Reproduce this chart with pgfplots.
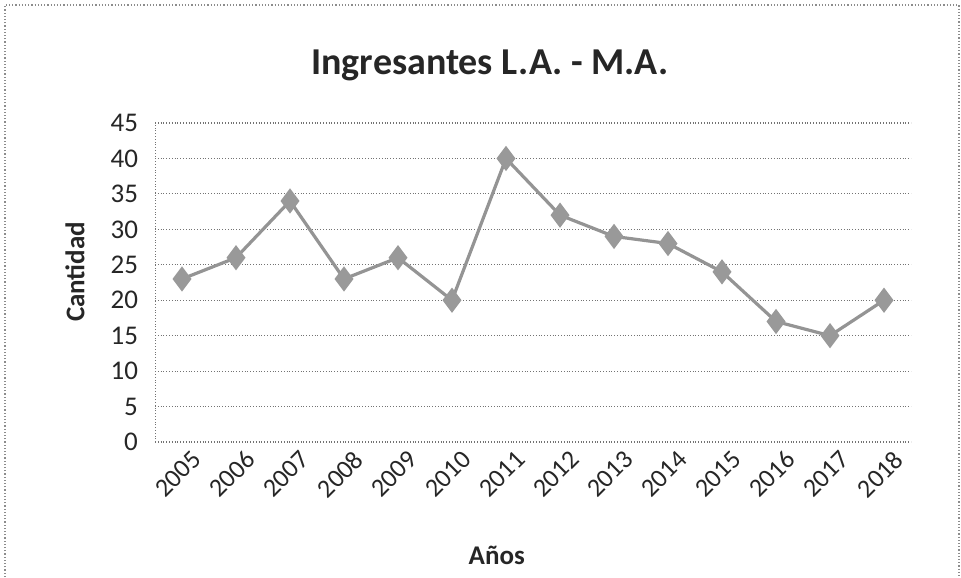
\documentclass[border=0pt]{standalone}
\usepackage{pgfplots}
\pgfplotsset{compat=1.18}
\usepackage{fontspec}
\setmainfont{Carlito}
\begin{document}
\begin{tikzpicture}
\begin{axis}[
  at={(0,0)}, anchor=south west,
  width=378pt, height=159.5pt, scale only axis,
  xmin=-0.5, xmax=13.5, ymin=0, ymax=45,
  xtick={0,...,13},
  xticklabels={2005,2006,2007,2008,2009,2010,2011,2012,2013,2014,2015,2016,2017,2018},
  ytick={0,5,...,45},
  /pgf/number format/assume math mode=true,
  tick label style={font=\fontsize{13.5}{15}\selectfont, text=black!85},
  xticklabel style={rotate=45, anchor=north east, yshift=-2pt, xshift=4pt, font=\fontsize{13}{15}\selectfont},
  yticklabel style={xshift=-5pt},
  major tick length=0pt,
  axis x line*=bottom, axis y line*=left,
  x axis line style={draw=none},
  y axis line style={draw=black!55, densely dotted},
  ymajorgrids, grid style={black!55, densely dotted, line width=0.6pt},
  clip=false,
]
\addplot[color=black!42, line width=1.6pt, mark=diamond*, mark size=5pt,
  mark options={fill=black!40, draw=black!40}]
  coordinates {(0,23) (1,26) (2,34) (3,23) (4,26) (5,20) (6,40) (7,32) (8,29) (9,28) (10,24) (11,17) (12,15) (13,20)};
\node[font=\fontsize{19}{22}\selectfont\bfseries, text=black!85] at ([yshift=29pt]rel axis cs:0.443,1) {Ingresantes L.A. - M.A.};
\node[font=\fontsize{13.5}{15}\selectfont\bfseries, text=black!85] at ([yshift=-56.5pt]rel axis cs:0.452,0) {Años};
\node[font=\fontsize{13.5}{15}\selectfont\bfseries, text=black!85, rotate=90] at ([xshift=-40pt]rel axis cs:0,0.533) {Cantidad};
\end{axis}
\draw[black!45, densely dotted, line width=0.6pt] (-75pt,-67.5pt) -- (-75pt,218.5pt) -- (402pt,218.5pt) -- (402pt,-67.5pt);
\path[use as bounding box] (-77.5pt,-67.5pt) rectangle (403pt,221pt);
\end{tikzpicture}
\end{document}
